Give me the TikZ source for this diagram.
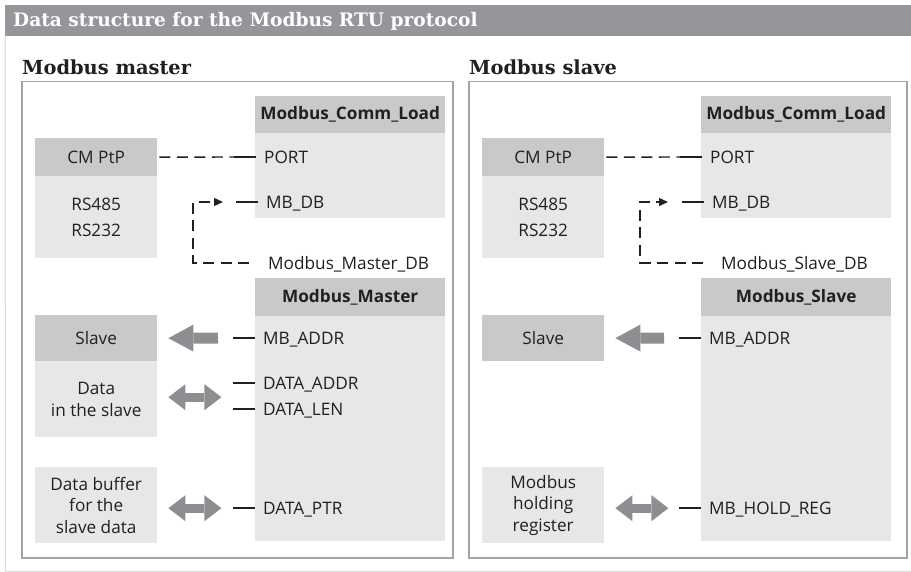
\documentclass[tikz,border=0pt]{standalone}
\usepackage{fontspec}
\setmainfont{DejaVu Serif}
\setsansfont{Open Sans}
\usetikzlibrary{arrows.meta}
\definecolor{barg}{RGB}{148,150,153}
\definecolor{dkg}{RGB}{200,201,203}
\definecolor{ltg}{RGB}{230,231,232}
\definecolor{frameg}{RGB}{163,163,163}
\definecolor{fatg}{RGB}{140,142,145}
\definecolor{txt}{RGB}{35,31,32}
\definecolor{edgeg}{RGB}{215,215,215}
\begin{document}
\begin{tikzpicture}[x=1pt,y=-1pt,
  titlebar/.style={fill=barg,draw=none,anchor=north west,inner sep=0pt,minimum width=906pt,minimum height=31pt},
  titletext/.style={anchor=base west,inner sep=0pt,text=white,font=\rmfamily\bfseries\fontsize{18.6}{22}\selectfont},
  secttext/.style={anchor=base west,inner sep=0pt,text=txt,font=\rmfamily\bfseries\fontsize{19.4}{23}\selectfont},
  panelframe/.style={draw=frameg,line width=1.5pt,anchor=north west,inner sep=0pt,minimum height=476pt},
  basebox/.style={draw=none,anchor=north west,inner sep=0pt,align=center,text=txt,font=\sffamily\fontsize{17.2}{21.5}\selectfont},
  dkbox/.style={basebox,fill=dkg},
  ltbox/.style={basebox,fill=ltg},
  blockw/.style={minimum width=190pt},
  smallw/.style={minimum width=122pt},
  paramtext/.style={anchor=west,inner sep=0pt,text height=12.2pt,text depth=0pt,text=txt,font=\sffamily\fontsize{17.2}{21}\selectfont},
  pinline/.style={draw=txt,line width=1.4pt},
  dashline/.style={draw=txt,line width=1.4pt,dash pattern=on 11pt off 6.5pt},
  fatarrow/.style={draw=fatg,line width=11pt,-{Triangle[width=27pt,length=25pt,line width=0pt]}},
  fatdouble/.style={draw=fatg,line width=9pt,{Triangle[width=26pt,length=17pt,line width=0pt]}-{Triangle[width=26pt,length=17pt,line width=0pt]}},
  edgeline/.style={draw=edgeg,line width=1pt}
]
\useasboundingbox (0,0) rectangle (911,572);
% header
\node[titlebar] (bar) at (5,5) {};
\node[titletext] (title) at (13,27) {Data structure for the Modbus RTU protocol};
\draw[edgeline] (bar.south west) -- (5.5,571) -- (911,571);
% ---------------- left panel ----------------
\node[secttext] (ltitle) at (22,75) {Modbus master};
\node[panelframe,minimum width=431pt] (lframe) at (21,81) {};
\node[dkbox,blockw,minimum height=37pt] (lclh) at (255,96) {\bfseries Modbus\_Comm\_Load};
\node[ltbox,blockw,minimum height=85pt] (lclb) at (255,133) {};
\node[dkbox,smallw,minimum height=38pt] (lcmh) at (35,138) {CM PtP};
\node[ltbox,smallw,minimum height=82pt,font=\sffamily\fontsize{17.2}{26}\selectfont] (lcmb) at (35,176) {RS485\\RS232};
\node[paramtext] (lport) at (264,157) {PORT};
\node[paramtext] (lmbdb) at (266,202) {MB\_DB};
\node[paramtext] (lmdb) at (268,263) {Modbus\_Master\_DB};
\node[dkbox,blockw,minimum height=38pt] (lmh) at (255,278) {\bfseries Modbus\_Master};
\node[ltbox,blockw,minimum height=225pt] (lmb) at (255,316) {};
\node[dkbox,smallw,minimum height=46pt] (lslave) at (35,315) {Slave};
\node[ltbox,smallw,minimum height=76pt] (ldata) at (35,361) {Data\\in the slave};
\node[ltbox,smallw,minimum height=76pt] (lbuf) at (35,467) {Data buffer\\for the\\slave data};
\node[paramtext] (lmbaddr) at (263,338) {MB\_ADDR};
\node[paramtext] (ldaddr) at (263,383) {DATA\_ADDR};
\node[paramtext] (ldlen) at (263,409) {DATA\_LEN};
\node[paramtext] (ldptr) at (263,508) {DATA\_PTR};
% pins
\foreach \p in {lport,lmbdb,lmbaddr,ldaddr,ldlen,ldptr}
  \draw[pinline] ([xshift=-30pt]\p.west) -- ([xshift=-8pt]\p.west);
\draw[dashline] ([xshift=2pt]lcmh.east) -- ([xshift=-30pt]lport.west);
\draw[dashline,-{Triangle[width=8pt,length=9pt]}] ([xshift=-19pt]lmdb.west) -- ([xshift=-75pt]lmdb.west) |- ([xshift=-43pt]lmbdb.west);
\draw[fatarrow] ([xshift=-45pt]lmbaddr.west) -- ([xshift=11pt]lslave.east);
\draw[fatdouble] ([xshift=11pt,yshift=2pt]ldata.east) -- ++(53pt,0);
\draw[fatdouble] ([xshift=11pt,yshift=-3pt]lbuf.east) -- ++(53pt,0);
% ---------------- right panel ----------------
\node[secttext] (rtitle) at (469,75) {Modbus slave};
\node[panelframe,minimum width=438pt] (rframe) at (468,81) {};
\node[dkbox,blockw,minimum height=37pt] (rclh) at (701,96) {\bfseries Modbus\_Comm\_Load};
\node[ltbox,blockw,minimum height=85pt] (rclb) at (701,133) {};
\node[dkbox,smallw,minimum height=38pt] (rcmh) at (482,138) {CM PtP};
\node[ltbox,smallw,minimum height=82pt,font=\sffamily\fontsize{17.2}{26}\selectfont] (rcmb) at (482,176) {RS485\\RS232};
\node[paramtext] (rport) at (710,157) {PORT};
\node[paramtext] (rmbdb) at (712,202) {MB\_DB};
\node[paramtext] (rsdb) at (721,263) {Modbus\_Slave\_DB};
\node[dkbox,blockw,minimum height=38pt] (rmh) at (701,278) {\bfseries Modbus\_Slave};
\node[ltbox,blockw,minimum height=225pt] (rmb) at (701,316) {};
\node[dkbox,smallw,minimum height=46pt] (rslave) at (482,315) {Slave};
\node[ltbox,smallw,minimum height=76pt] (rhold) at (482,467) {Modbus\\holding\\register};
\node[paramtext] (rmbaddr) at (709,338) {MB\_ADDR};
\node[paramtext] (rhreg) at (709,508) {MB\_HOLD\_REG};
\foreach \p in {rport,rmbdb,rmbaddr,rhreg}
  \draw[pinline] ([xshift=-30pt]\p.west) -- ([xshift=-8pt]\p.west);
\draw[dashline] ([xshift=2pt]rcmh.east) -- ([xshift=-30pt]rport.west);
\draw[dashline,-{Triangle[width=8pt,length=9pt]}] ([xshift=-18pt]rsdb.west) -- ([xshift=-81pt]rsdb.west) |- ([xshift=-44pt]rmbdb.west);
\draw[fatarrow] ([xshift=-45pt]rmbaddr.west) -- ([xshift=11pt]rslave.east);
\draw[fatdouble] ([xshift=11pt,yshift=-3pt]rhold.east) -- ++(53pt,0);
\end{tikzpicture}
\end{document}
